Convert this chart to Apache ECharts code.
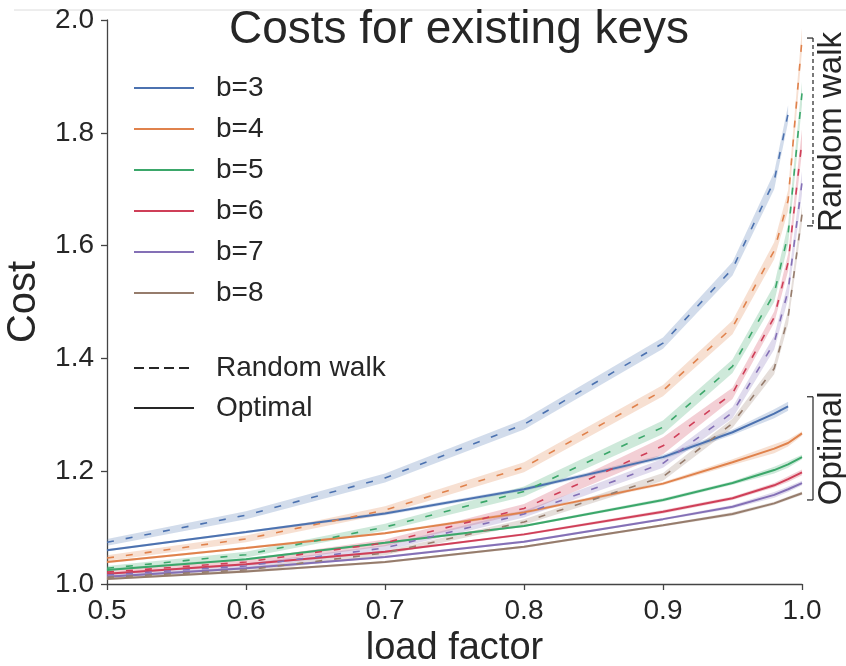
<!DOCTYPE html>
<html>
<head>
<meta charset="utf-8">
<script src="https://cdn.jsdelivr.net/npm/echarts@6/dist/echarts.min.js"></script>
<style>
  html, body { margin: 0; padding: 0; background: #fff; }
  #chart { width: 846px; height: 666px; }
</style>
</head>
<body>
<div id="chart"></div>
<script>
// load factors (x), b=3 stops at 0.99
const loadFactors = [0.5, 0.6, 0.7, 0.8, 0.9, 0.95, 0.98, 0.99, 1.0];
const bucketNames = ['b=3', 'b=4', 'b=5', 'b=6', 'b=7', 'b=8'];
const colors = ['#4C72B0', '#E0824C', '#3BA76A', '#CF3F58', '#8470B6', '#967C6C'];

// optimal (solid) mean costs
const optimal3 = [1.060, 1.092, 1.125, 1.168, 1.225, 1.269, 1.302, 1.315];
const optimal4 = [1.039, 1.064, 1.090, 1.127, 1.178, 1.216, 1.240, 1.250, 1.267];
const optimal5 = [1.025, 1.044, 1.073, 1.103, 1.149, 1.179, 1.202, 1.212, 1.225];
const optimal6 = [1.018, 1.035, 1.057, 1.088, 1.128, 1.152, 1.175, 1.186, 1.198];
const optimal7 = [1.013, 1.028, 1.048, 1.075, 1.115, 1.137, 1.158, 1.168, 1.179];
const optimal8 = [1.009, 1.022, 1.039, 1.066, 1.104, 1.124, 1.143, 1.152, 1.161];

// random walk (dashed) mean costs
const walk3 = [1.074, 1.122, 1.188, 1.283, 1.427, 1.559, 1.715, 1.834];
const walk4 = [1.046, 1.080, 1.131, 1.207, 1.343, 1.455, 1.591, 1.680, 1.966];
const walk5 = [1.028, 1.052, 1.101, 1.164, 1.278, 1.386, 1.515, 1.620, 1.870];
const walk6 = [1.021, 1.039, 1.073, 1.134, 1.245, 1.338, 1.473, 1.570, 1.786];
const walk7 = [1.016, 1.032, 1.064, 1.124, 1.214, 1.304, 1.428, 1.520, 1.712];
const walk8 = [1.012, 1.025, 1.055, 1.110, 1.190, 1.285, 1.382, 1.473, 1.655];

// half width of the shaded spread around each line
const optimalSpread3 = [0.002, 0.002, 0.003, 0.003, 0.004, 0.005, 0.008, 0.008];
const optimalSpread4 = [0.002, 0.002, 0.002, 0.003, 0.003, 0.005, 0.008, 0.006, 0.004];
const optimalSpread5 = [0.002, 0.002, 0.002, 0.002, 0.003, 0.003, 0.006, 0.006, 0.004];
const optimalSpread6 = [0.002, 0.002, 0.002, 0.002, 0.003, 0.003, 0.004, 0.005, 0.005];
const optimalSpread7 = [0.002, 0.002, 0.002, 0.002, 0.002, 0.003, 0.005, 0.005, 0.004];
const optimalSpread8 = [0.002, 0.002, 0.002, 0.002, 0.002, 0.003, 0.003, 0.003, 0.003];

const walkSpread3 = [0.006, 0.007, 0.008, 0.009, 0.010, 0.012, 0.015, 0.015];
const walkSpread4 = [0.005, 0.006, 0.007, 0.009, 0.010, 0.012, 0.015, 0.018, 0.020];
const walkSpread5 = [0.004, 0.005, 0.006, 0.009, 0.012, 0.012, 0.015, 0.018, 0.020];
const walkSpread6 = [0.004, 0.005, 0.006, 0.008, 0.015, 0.010, 0.010, 0.015, 0.020];
const walkSpread7 = [0.003, 0.004, 0.005, 0.006, 0.008, 0.010, 0.012, 0.015, 0.020];
const walkSpread8 = [0.003, 0.004, 0.004, 0.005, 0.007, 0.008, 0.010, 0.012, 0.015];

// brackets on the right
const bracketLabels = ['Random walk', 'Optimal'];
const bracketLow = [1.635, 1.149];
const bracketHigh = [1.968, 1.332];
const bracketDashed = [true, false];

const optimalAll = [optimal3, optimal4, optimal5, optimal6, optimal7, optimal8];
const walkAll = [walk3, walk4, walk5, walk6, walk7, walk8];
const optimalSpreadAll = [optimalSpread3, optimalSpread4, optimalSpread5, optimalSpread6, optimalSpread7, optimalSpread8];
const walkSpreadAll = [walkSpread3, walkSpread4, walkSpread5, walkSpread6, walkSpread7, walkSpread8];

const FONT = "'Liberation Sans', Arial, sans-serif";
const TEXT = '#262626';

function pairs(vals) {
  return vals.map((v, i) => [loadFactors[i], v]);
}

function bandSeries(vals, spread, color) {
  const data = vals.map((v, i) => [loadFactors[i], v - spread[i], v + spread[i]]);
  return {
    type: 'custom',
    silent: true,
    z: 1,
    encode: { x: 0, y: [1, 2] },
    data: data,
    renderItem: function (params, api) {
      if (params.dataIndex !== 0) return null;
      const pts = [];
      for (let i = 0; i < data.length; i++) pts.push(api.coord([data[i][0], data[i][2]]));
      for (let i = data.length - 1; i >= 0; i--) pts.push(api.coord([data[i][0], data[i][1]]));
      return {
        type: 'polygon',
        shape: { points: pts },
        style: { fill: color, opacity: 0.25 }
      };
    }
  };
}

const series = [];

bucketNames.forEach((name, k) => {
  series.push(bandSeries(walkAll[k], walkSpreadAll[k], colors[k]));
  series.push(bandSeries(optimalAll[k], optimalSpreadAll[k], colors[k]));
});

bucketNames.forEach((name, k) => {
  series.push({
    name: name,
    type: 'line',
    symbol: 'none',
    z: 3,
    color: colors[k],
    lineStyle: { width: 2, color: colors[k] },
    data: pairs(optimalAll[k])
  });
});

bucketNames.forEach((name, k) => {
  series.push({
    name: name,
    type: 'line',
    symbol: 'none',
    z: 3,
    color: colors[k],
    lineStyle: { width: 1.6, color: colors[k], type: [7, 12] },
    data: pairs(walkAll[k])
  });
});

// style-only legend entries
series.push({
  name: 'Random walk', type: 'line', symbol: 'none', color: TEXT,
  lineStyle: { width: 2, color: TEXT, type: [10, 5] }, data: []
});
series.push({
  name: 'Optimal', type: 'line', symbol: 'none', color: TEXT,
  lineStyle: { width: 2, color: TEXT }, data: []
});

// brackets + labels
series.push({
  type: 'custom',
  silent: true,
  z: 5,
  clip: false,
  encode: { y: [0, 1] },
  data: bracketLow.map((lo, i) => [lo, bracketHigh[i]]),
  renderItem: function (params, api) {
    const i = params.dataIndex;
    const top = api.coord([1.0, bracketHigh[i]]);
    const bot = api.coord([1.0, bracketLow[i]]);
    const x = top[0] + 11;
    const dash = bracketDashed[i] ? [4, 3] : null;
    const ls = { stroke: '#333', lineWidth: 1.3, lineDash: dash };
    return {
      type: 'group',
      children: [
        { type: 'line', shape: { x1: x, y1: top[1], x2: x, y2: bot[1] }, style: ls },
        { type: 'line', shape: { x1: x - 6, y1: top[1], x2: x, y2: top[1] }, style: { stroke: '#333', lineWidth: 1.3 } },
        { type: 'line', shape: { x1: x - 6, y1: bot[1], x2: x, y2: bot[1] }, style: { stroke: '#333', lineWidth: 1.3 } },
        {
          type: 'text',
          x: x + 19,
          y: (top[1] + bot[1]) / 2,
          rotation: Math.PI / 2,
          style: {
            text: bracketLabels[i],
            fill: TEXT,
            font: '33px ' + FONT,
            textAlign: 'center',
            textVerticalAlign: 'middle'
          }
        }
      ]
    };
  }
});

const legendText = { fontFamily: FONT, fontSize: 28, color: TEXT, lineHeight: 30, padding: [0, 0, 0, 17] };

const chart = echarts.init(document.getElementById('chart'));
chart.setOption({
  animation: false,
  backgroundColor: '#fff',
  title: {
    text: 'Costs for existing keys',
    left: 454,
    top: 2,
    textAlign: 'center',
    textStyle: { fontFamily: FONT, fontSize: 46, fontWeight: 'normal', color: TEXT }
  },
  graphic: [
    { type: 'line', shape: { x1: 14, y1: 10, x2: 846, y2: 10 }, style: { stroke: '#dcdcdc', lineWidth: 1 } }
  ],
  legend: [
    {
      orient: 'vertical',
      left: 133,
      top: 73,
      padding: 0,
      itemWidth: 60,
      itemHeight: 14,
      itemGap: 11,
      itemStyle: { opacity: 0 },
      data: bucketNames,
      textStyle: legendText
    },
    {
      orient: 'vertical',
      left: 133,
      top: 353,
      padding: 0,
      itemWidth: 60,
      itemHeight: 14,
      itemGap: 10,
      itemStyle: { opacity: 0 },
      data: ['Random walk', 'Optimal'],
      textStyle: legendText
    }
  ],
  grid: { left: 107, right: 44, top: 20, bottom: 82, containLabel: false, outerBoundsMode: 'none' },
  xAxis: {
    type: 'value',
    min: 0.5,
    max: 1.0,
    interval: 0.1,
    name: 'load factor',
    nameLocation: 'middle',
    nameGap: 43,
    nameTextStyle: { fontFamily: FONT, fontSize: 38, color: TEXT },
    splitLine: { show: false },
    axisLine: { lineStyle: { color: '#444', width: 1.3 } },
    axisTick: { length: 6, lineStyle: { color: '#444', width: 1.3 } },
    axisLabel: {
      fontFamily: FONT, fontSize: 28, color: TEXT, margin: 13,
      formatter: v => v.toFixed(1)
    }
  },
  yAxis: {
    type: 'value',
    min: 1.0,
    max: 2.0,
    interval: 0.2,
    name: 'Cost',
    nameLocation: 'middle',
    nameRotate: 90,
    nameGap: 44,
    nameTextStyle: { fontFamily: FONT, fontSize: 40, color: TEXT },
    splitLine: { show: false },
    axisLine: { show: true, lineStyle: { color: '#444', width: 1.3 } },
    axisTick: { show: true, length: 6, lineStyle: { color: '#444', width: 1.3 } },
    axisLabel: {
      fontFamily: FONT, fontSize: 28, color: TEXT, margin: 13,
      formatter: v => v.toFixed(1)
    }
  },
  tooltip: { show: false },
  series: series
});
</script>
</body>
</html>
